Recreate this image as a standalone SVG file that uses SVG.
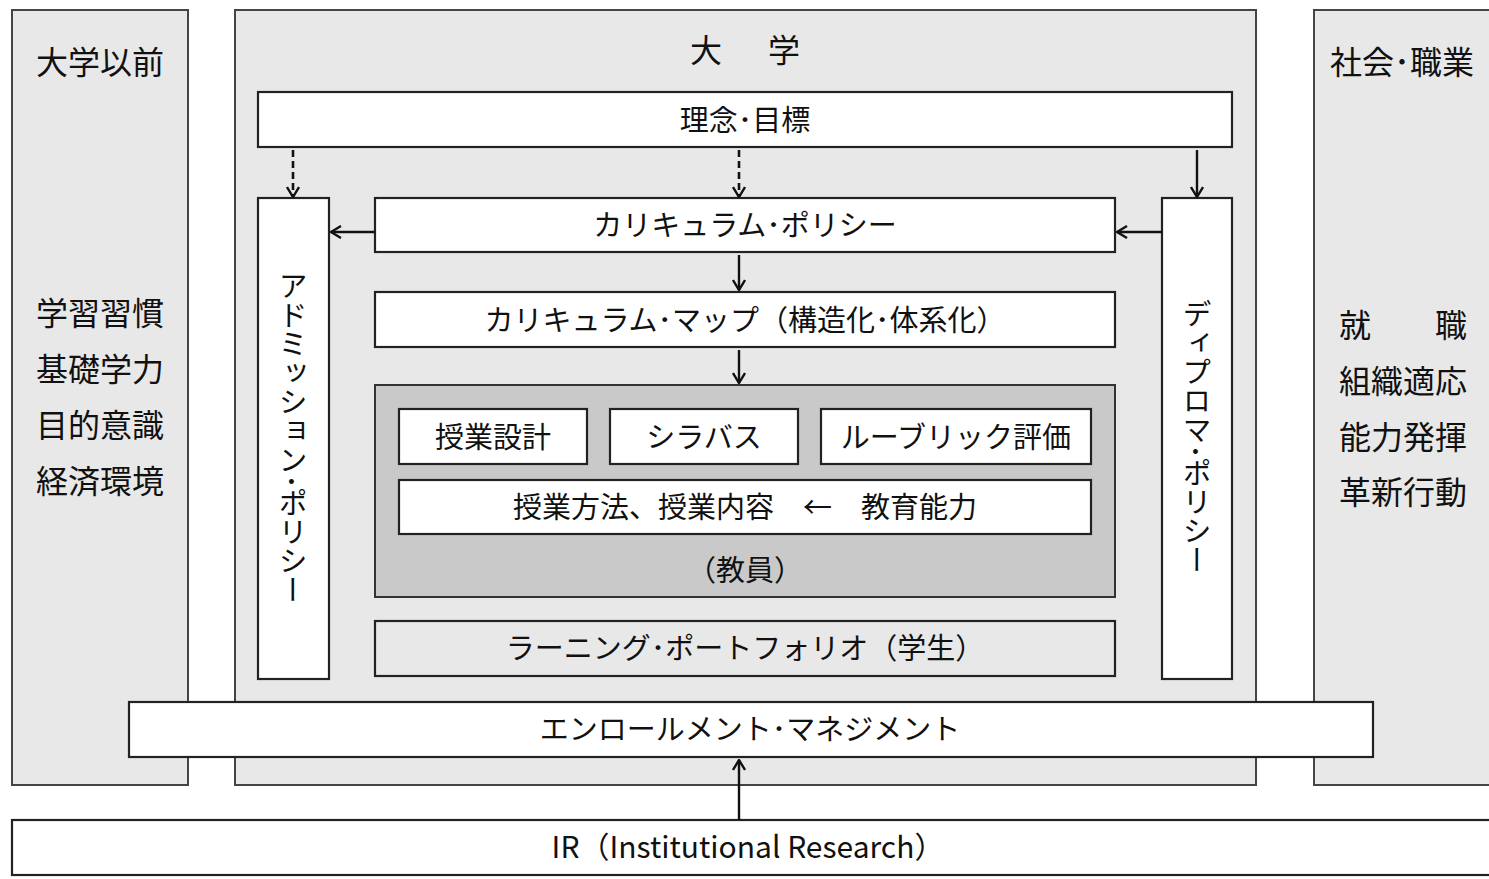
<svg xmlns="http://www.w3.org/2000/svg" width="1489" height="879" viewBox="0 0 1489 879">
<defs>
<style>
text{font-family:"Noto Sans CJK JP","Liberation Sans",sans-serif;fill:#111;font-size:29px;text-anchor:middle;dominant-baseline:central}
.big{font-size:32px}
.bg{fill:#e8e8e8;stroke:#444;stroke-width:2}
.w{fill:#fff;stroke:#222;stroke-width:2.2}
.g{fill:#c9c9c9;stroke:#333;stroke-width:2}
.lg{fill:#e8e8e8;stroke:#222;stroke-width:2.2}
.c{fill:none;stroke:#111;stroke-width:2.4}
.d{stroke-dasharray:7 4;stroke-width:2.6}
.v{writing-mode:vertical-rl}
</style>
<marker id="ah" viewBox="0 0 12 14" refX="11" refY="7" markerWidth="12" markerHeight="14" markerUnits="userSpaceOnUse" orient="auto">
<path d="M1,1 L11,7 L1,13" fill="none" stroke="#111" stroke-width="2.4"/>
</marker>
</defs>
<rect width="1489" height="879" fill="#fff"/>

<g id="before">
<rect class="bg" x="12" y="10" width="176" height="775"/>
<text class="big" x="100" y="60">大学以前</text>
<text class="big" x="100" y="311">学習習慣</text>
<text class="big" x="100" y="367">基礎学力</text>
<text class="big" x="100" y="423">目的意識</text>
<text class="big" x="100" y="479">経済環境</text>
</g>

<g id="university">
<rect class="bg" x="235" y="10" width="1021" height="775"/>
<text class="big" y="48"><tspan x="706">大</tspan><tspan x="784">学</tspan></text>
</g>

<g id="society">
<rect class="bg" x="1314" y="10" width="190" height="775"/>
<text class="big" x="1402" y="60">社会･職業</text>
<text class="big" x="1403" y="323">就　　職</text>
<text class="big" x="1403" y="379">組織適応</text>
<text class="big" x="1403" y="435">能力発揮</text>
<text class="big" x="1403" y="490">革新行動</text>
</g>

<g id="rinen">
<rect class="w" x="258" y="92" width="974" height="55"/>
<text x="745" y="118">理念･目標</text>
</g>

<g id="admission">
<rect class="w" x="258" y="198" width="71" height="481"/>
<text class="v" x="293" y="438">アドミッション･ポリシー</text>
</g>

<g id="diploma">
<rect class="w" x="1162" y="198" width="70" height="481"/>
<text class="v" x="1197" y="437">ディプロマ･ポリシー</text>
</g>

<g id="curriculum-policy">
<rect class="w" x="375" y="198" width="740" height="54"/>
<text x="745" y="223">カリキュラム･ポリシー</text>
</g>

<g id="curriculum-map">
<rect class="w" x="375" y="292" width="740" height="55"/>
<text x="745" y="318">カリキュラム･マップ（構造化･体系化）</text>
</g>

<g id="faculty">
<rect class="g" x="375" y="385" width="740" height="212"/>
<text x="745" y="568">（教員）</text>
</g>

<g id="jugyo-sekkei">
<rect class="w" x="399" y="409" width="188" height="55"/>
<text x="493" y="435">授業設計</text>
</g>

<g id="syllabus">
<rect class="w" x="610" y="409" width="188" height="55"/>
<text x="704" y="435">シラバス</text>
</g>

<g id="rubric">
<rect class="w" x="821" y="409" width="270" height="55"/>
<text x="956" y="435">ルーブリック評価</text>
</g>

<g id="method">
<rect class="w" x="399" y="480" width="692" height="54"/>
<text x="745" y="505">授業方法、授業内容　←　教育能力</text>
</g>

<g id="portfolio">
<rect class="lg" x="375" y="621" width="740" height="55"/>
<text x="745" y="646">ラーニング･ポートフォリオ（学生）</text>
</g>

<g id="enrollment">
<rect class="w" x="129" y="702" width="1244" height="55"/>
<text x="750" y="727">エンロールメント･マネジメント</text>
</g>

<g id="ir">
<rect class="w" x="12" y="820" width="1500" height="55"/>
<text x="748" y="845" style="font-size:30px">IR（Institutional Research）</text>
</g>

<g id="connectors">
<line class="c d" x1="293" y1="150" x2="293" y2="197" marker-end="url(#ah)"/>
<line class="c d" x1="739" y1="150" x2="739" y2="197" marker-end="url(#ah)"/>
<line class="c" x1="1197" y1="150" x2="1197" y2="197" marker-end="url(#ah)"/>
<line class="c" x1="375" y1="232" x2="331" y2="232" marker-end="url(#ah)"/>
<line class="c" x1="1162" y1="232" x2="1117" y2="232" marker-end="url(#ah)"/>
<line class="c" x1="739" y1="255" x2="739" y2="290" marker-end="url(#ah)"/>
<line class="c" x1="739" y1="350" x2="739" y2="383" marker-end="url(#ah)"/>
<line class="c" x1="739" y1="820" x2="739" y2="760" marker-end="url(#ah)"/>
</g>
</svg>
